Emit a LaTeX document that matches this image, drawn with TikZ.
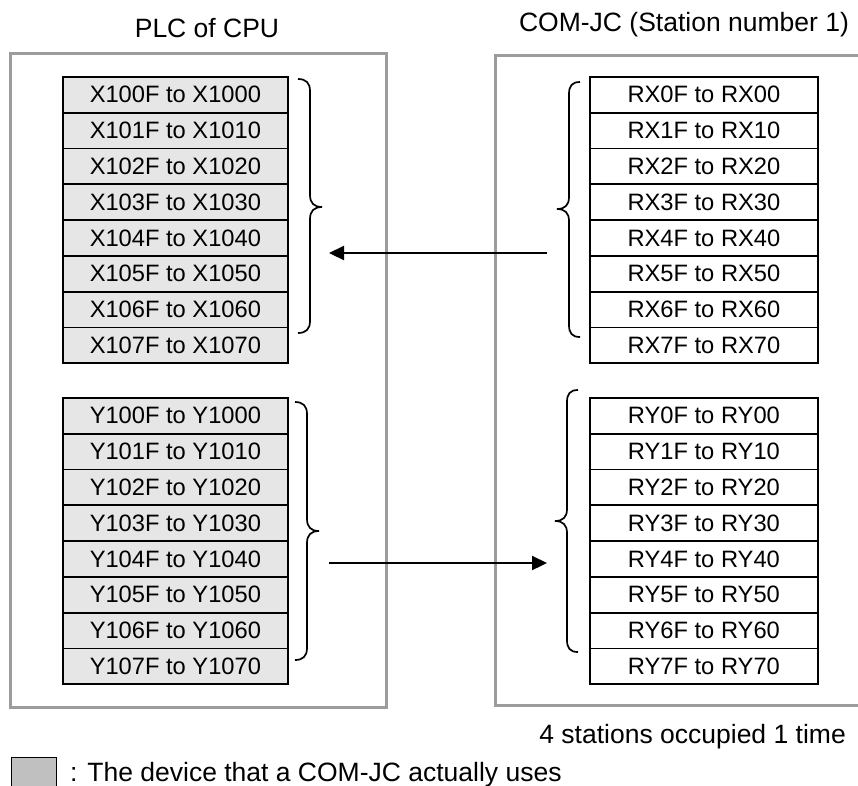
\documentclass[tikz,border=0pt]{standalone}
\usepackage{fontspec}
\setmainfont{Liberation Sans}
\usetikzlibrary{arrows.meta}
\definecolor{boxgray}{HTML}{9C9C9C}
\definecolor{cellgray}{HTML}{E6E6E6}
\definecolor{leggray}{HTML}{C0C0C0}
\begin{document}
\begin{tikzpicture}[x=1pt,y=-1pt,
  cell/.style={draw=black,line width=1.8pt,minimum height=35.8pt,inner sep=0pt,
    font=\fontsize{23.7}{28}\selectfont,anchor=north west},
  lcell/.style={cell,minimum width=225pt,fill=cellgray},
  rcell/.style={cell,minimum width=228pt,fill=white},
  frame/.style={draw=boxgray,line width=3pt},
  brace/.style={draw=black,line width=1.7pt},
  flow/.style={draw=black,line width=2.2pt,-{Triangle[length=15pt,width=14pt]}},
  bigtext/.style={font=\fontsize{26.5}{30}\selectfont,inner sep=0pt}]
\useasboundingbox (0,0) rectangle (858,785);
% frames
\draw[frame] (10,53) rectangle (386,707);
\draw[frame] (875,55) -- (495,55) -- (495,705) -- (875,705);
% titles
\node[bigtext,anchor=base] (t1) at (207,37) {PLC of CPU};
\node[bigtext,anchor=base] (t2) at (684,31) {COM-JC (Station number 1)};
% tables
\foreach \i in {0,...,7} {
  \node[lcell] (x\i) at (62,{76+35.8*\i}) {X10\i{}F to X10\i{}0};
  \node[lcell] (y\i) at (62,{397+35.8*\i}) {Y10\i{}F to Y10\i{}0};
  \node[rcell] (rx\i) at (589,{76+35.8*\i}) {RX\i{}F to RX\i{}0};
  \node[rcell] (ry\i) at (589,{397+35.8*\i}) {RY\i{}F to RY\i{}0};
}
% braces
\draw[brace] (298,79) .. controls (306,79) and (310,83) .. (310,91) -- (310,195)
  .. controls (310,203) and (314,207) .. (322,207)
  .. controls (314,207) and (310,211) .. (310,219) -- (310,321)
  .. controls (310,329) and (306,333) .. (298,333);
\draw[brace] (295,402) .. controls (303,402) and (307,406) .. (307,414) -- (307,519)
  .. controls (307,527) and (311,531) .. (319,531)
  .. controls (311,531) and (307,535) .. (307,543) -- (307,648)
  .. controls (307,656) and (303,660) .. (295,660);
\draw[brace] (580,82) .. controls (572,82) and (569,86) .. (569,94) -- (569,197)
  .. controls (569,205) and (565,209) .. (557,209)
  .. controls (565,209) and (569,213) .. (569,221) -- (569,325)
  .. controls (569,333) and (572,337) .. (580,337);
\draw[brace] (578,390) .. controls (570,390) and (567,394) .. (567,402) -- (567,509)
  .. controls (567,517) and (563,521) .. (555,521)
  .. controls (563,521) and (567,525) .. (567,533) -- (567,640)
  .. controls (567,648) and (570,652) .. (578,652);
% arrows
\coordinate (xa1) at (547,253);
\coordinate (xa2) at (329,253);
\coordinate (ya1) at (329,563);
\coordinate (ya2) at (547,563);
\draw[flow] (xa1) -- (xa2);
\draw[flow] (ya1) -- (ya2);
% notes
\node[bigtext,anchor=base east] (occ) at (846,743) {4 stations occupied 1 time};
\node[draw=black,line width=1pt,fill=leggray,minimum width=45pt,minimum height=32pt,
  inner sep=0pt,anchor=north west] (leg) at (11,757) {};
\node[bigtext,anchor=base west] (legtxt) at (70,781) {: The device that a COM-JC actually uses};
\end{tikzpicture}
\end{document}
